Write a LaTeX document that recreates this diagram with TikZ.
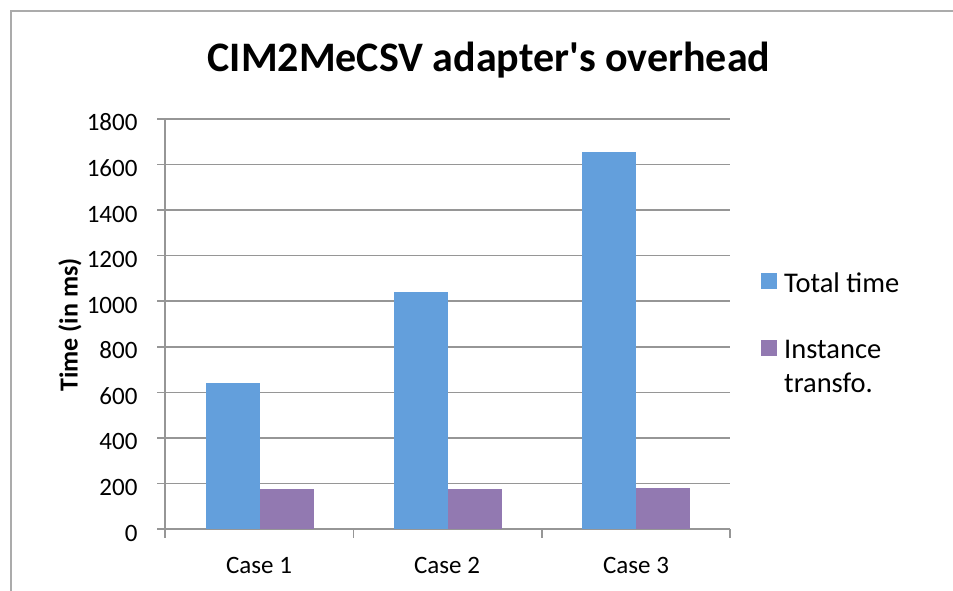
\documentclass[tikz,border=0pt]{standalone}
\usepackage{fontspec}
\setmainfont{Carlito}
\usepackage{xcolor}
\usepackage{tikz}
\usetikzlibrary{positioning}
\definecolor{totalblue}{RGB}{99, 159, 220}
\definecolor{transfopurple}{RGB}{146, 121, 177}
\definecolor{axisgray}{RGB}{150, 150, 150}

\begin{document}
\begin{tikzpicture}[
    x=1pt, y=-1pt,
    node distance=6pt,
    grid/.style={draw=axisgray, line width=1.6pt},
    bar/.style={draw=none, fill=#1},
    value/.style={font=\fontsize{25}{30}\selectfont, anchor=base east},
    label/.style={font=\fontsize{25}{30}\selectfont, anchor=base},
    key/.style={fill=#1, minimum size=16pt, inner sep=0pt},
    keytext/.style={font=\fontsize{28.5}{34}\selectfont, align=left, inner sep=0pt}
]
\useasboundingbox (0,0) rectangle (953,591);
% outer frame of the chart
\draw[draw=axisgray!80, line width=2pt] (10.5,591) -- (10.5,11) -- (953,11);

\node[font=\fontsize{42}{50}\selectfont\bfseries, anchor=base] (title) at (489,72) {CIM2MeCSV adapter\textquotesingle s overhead};

% grid lines and values
\foreach \v in {0,200,...,1800}{
  \draw[grid] (157,{529-\v*0.2278}) -- (730,{529-\v*0.2278});
  \node[value] (val\v) at (141,{529-\v*0.2278+12}) {\v};
}
\draw[grid] (165,119) -- (165,538);
\foreach \x in {353.3,541.7,730}
  \draw[grid] (\x,529) -- (\x,538);

% bars
\fill[bar=totalblue] (206,529) rectangle (260,{529-640*0.2278});
\fill[bar=transfopurple] (260,529) rectangle (314,{529-175*0.2278});
\fill[bar=totalblue] (394,529) rectangle (448,{529-1040*0.2278});
\fill[bar=transfopurple] (448,529) rectangle (502,{529-175*0.2278});
\fill[bar=totalblue] (582,529) rectangle (636,{529-1655*0.2278});
\fill[bar=transfopurple] (636,529) rectangle (690,{529-182*0.2278});

\node[label] (case1) at (259,573) {Case 1};
\node[label] (case2) at (447,573) {Case 2};
\node[label] (case3) at (636,573) {Case 3};

\node[font=\fontsize{26}{30}\selectfont\bfseries, rotate=90] (ylab) at (70,325) {Time (in ms)};

% legend
\node[key=totalblue] (ktotal) at (769,281) {};
\node[keytext, anchor=base west] (ttotal) at (784,292) {Total time};
\node[key=transfopurple] (ktransfo) at (769,348) {};
\node[keytext, anchor=base west] (ttransfo) at (784,392) {Instance\\transfo.};
\end{tikzpicture}
\end{document}
